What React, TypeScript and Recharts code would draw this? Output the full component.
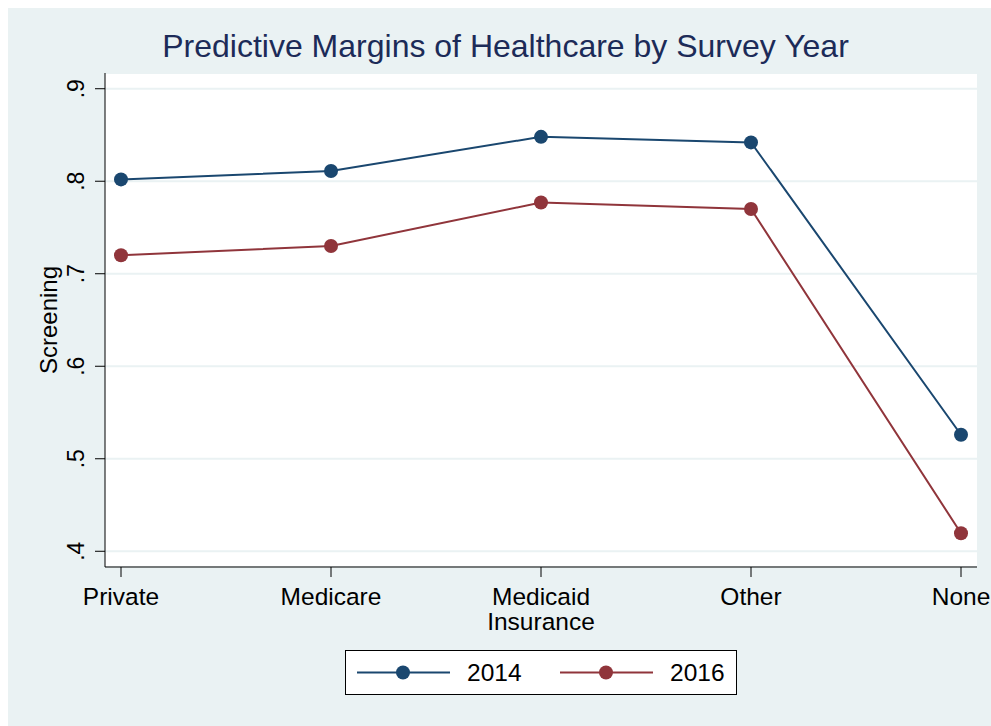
import { CartesianGrid, Legend, Line, LineChart, XAxis, YAxis } from "recharts";

const categories = ["Private", "Medicare", "Medicaid\nInsurance", "Other", "None"];
const screening2014 = [0.802, 0.811, 0.848, 0.842, 0.526];
const screening2016 = [0.72, 0.73, 0.777, 0.77, 0.4195];
const yTicks = [0.4, 0.5, 0.6, 0.7, 0.8, 0.9];

const series = [
  { key: "y2014", name: "2014", color: "#1a476f" },
  { key: "y2016", name: "2016", color: "#90353b" },
];

const data = categories.map((c, i) => ({
  cat: c,
  y2014: screening2014[i],
  y2016: screening2016[i],
}));

const FONT = "'Liberation Sans', Arial, Helvetica, sans-serif";
const BG = "#eaf2f3";

const XTick = (props: any) => {
  const { x, y, payload } = props;
  const lines = String(payload.value).split("\n");
  return (
    <g>
      {lines.map((l: string, i: number) => (
        <text
          key={i}
          x={x}
          y={y + 28 + i * 25}
          textAnchor="middle"
          fontSize={24.5}
          fill="#000"
          fontFamily={FONT}
        >
          {l}
        </text>
      ))}
    </g>
  );
};

const YTick = (props: any) => {
  const { x, y, payload } = props;
  const bx = x - 11;
  const label = payload.value.toFixed(1).replace(/^0/, "");
  return (
    <text
      x={bx}
      y={y}
      transform={`rotate(-90, ${bx}, ${y})`}
      textAnchor="middle"
      fontSize={23}
      fill="#000"
      fontFamily={FONT}
    >
      {label}
    </text>
  );
};

const YLabel = (props: any) => {
  const vb = props.viewBox || { y: 65, height: 494 };
  const bx = 49;
  const cy = vb.y + vb.height / 2;
  return (
    <text
      x={bx}
      y={cy}
      transform={`rotate(-90, ${bx}, ${cy})`}
      textAnchor="middle"
      fontSize={24}
      fill="#000"
      fontFamily={FONT}
    >
      Screening
    </text>
  );
};

const LegendBox = () => (
  <div
    style={{
      width: 390,
      height: 43,
      border: "1px solid #000",
      background: "#fff",
      position: "relative",
    }}
  >
    <svg width={390} height={43}>
      {series.map((s, i) => {
        const ox = 11 + i * 203;
        return (
          <g key={s.key}>
            <line x1={ox} x2={ox + 93} y1={21.5} y2={21.5} stroke={s.color} strokeWidth={2} />
            <circle cx={ox + 46} cy={21.5} r={7} fill={s.color} />
            <text x={ox + 110} y={30} fontSize={24.5} fontFamily={FONT} fill="#000">
              {s.name}
            </text>
          </g>
        );
      })}
    </svg>
  </div>
);

export default function App() {
  return (
    <div
      style={{
        position: "fixed",
        left: 8,
        top: 8,
        right: 0,
        bottom: 0,
        background: BG,
        fontFamily: FONT,
      }}
    >
      <div
        style={{
          position: "absolute",
          left: 6,
          top: 20,
          width: 983,
          textAlign: "center",
          fontSize: 32,
          lineHeight: "36px",
          color: "#1c2b58",
        }}
      >
        Predictive Margins of Healthcare by Survey Year
      </div>
      <LineChart
        width={983}
        height={718}
        data={data}
        margin={{ top: 65, right: 14, left: 0, bottom: 99 }}
        style={{ overflow: "visible" }}
      >
        <CartesianGrid vertical={false} stroke={BG} strokeWidth={2} fill="#fff" />
        <XAxis
          dataKey="cat"
          height={60}
          padding={{ left: 16, right: 16 }}
          tick={<XTick />}
          tickSize={10}
          tickMargin={0}
          stroke="#000"
          interval={0}
        />
        <YAxis
          width={97}
          domain={[0.383, 0.917]}
          ticks={yTicks}
          type="number"
          allowDataOverflow
          tick={<YTick />}
          tickSize={10}
          tickMargin={0}
          stroke="#000"
          label={<YLabel />}
        />
        {series.map((s) => (
          <Line
            key={s.key}
            dataKey={s.key}
            name={s.name}
            type="linear"
            stroke={s.color}
            strokeWidth={2}
            dot={{ r: 7, fill: s.color, stroke: "none" }}
            activeDot={false}
            isAnimationActive={false}
          />
        ))}
        <Legend
          layout="horizontal"
          verticalAlign="middle"
          content={() => <LegendBox />}
          wrapperStyle={{ position: "absolute", left: 337, top: 642, width: 392, height: 45 }}
        />
      </LineChart>
    </div>
  );
}
